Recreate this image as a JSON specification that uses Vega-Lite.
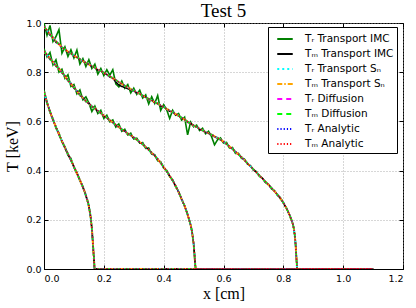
{
  "$schema": "https://vega.github.io/schema/vega-lite/v6.json",
  "width": 359,
  "height": 246,
  "autosize": {"type": "none"},
  "padding": {"left": 44, "top": 23, "right": 13, "bottom": 39},
  "title": {"text": "Test 5", "font": "Liberation Serif", "fontSize": 19, "fontWeight": "normal", "color": "#000", "offset": 3, "baseline": "alphabetic", "dy": 21, "anchor": "middle"},
  "config": {
    "view": {"stroke": "#000", "strokeWidth": 1},
    "axis": {
      "labelFont": "DejaVu Sans", "labelFontSize": 9.5, "labelColor": "#000",
      "titleFont": "Liberation Serif", "titleFontSize": 16, "titleFontWeight": "normal", "titleColor": "#000",
      "gridColor": "#999", "gridDash": [1, 2], "gridWidth": 0.8,
      "domainColor": "#000", "tickColor": "#000", "tickSize": -4, "labelPadding": 7
    },
    "legend": {
      "orient": "none", "legendX": 224, "legendY": 4,
      "strokeColor": "#000", "fillColor": "#fff", "padding": 3,
      "labelFont": "DejaVu Sans", "labelFontSize": 10.5, "labelColor": "#000",
      "symbolType": "stroke", "symbolSize": 240, "symbolStrokeWidth": 2, "symbolOffset": 5,
      "labelOffset": 11, "rowPadding": 0, "labelLimit": 200
    }
  },
  "datasets": {
    "ref": [
      {"c": 3, "x": 0.00, "t": 0.985}, {"c": 3, "x": 0.02, "t": 0.955}, {"c": 3, "x": 0.04, "t": 0.925}, {"c": 3, "x": 0.06, "t": 0.902},
      {"c": 3, "x": 0.08, "t": 0.884}, {"c": 3, "x": 0.10, "t": 0.868}, {"c": 3, "x": 0.12, "t": 0.853}, {"c": 3, "x": 0.14, "t": 0.838},
      {"c": 3, "x": 0.16, "t": 0.825}, {"c": 3, "x": 0.18, "t": 0.812}, {"c": 3, "x": 0.20, "t": 0.798}, {"c": 3, "x": 0.22, "t": 0.783},
      {"c": 3, "x": 0.24, "t": 0.768}, {"c": 3, "x": 0.26, "t": 0.752}, {"c": 3, "x": 0.28, "t": 0.738}, {"c": 3, "x": 0.30, "t": 0.725},
      {"c": 3, "x": 0.32, "t": 0.712}, {"c": 3, "x": 0.34, "t": 0.698}, {"c": 3, "x": 0.36, "t": 0.685}, {"c": 3, "x": 0.38, "t": 0.672},
      {"c": 3, "x": 0.40, "t": 0.658}, {"c": 3, "x": 0.42, "t": 0.644}, {"c": 3, "x": 0.44, "t": 0.630}, {"c": 3, "x": 0.46, "t": 0.615},
      {"c": 3, "x": 0.48, "t": 0.599}, {"c": 3, "x": 0.50, "t": 0.584}, {"c": 3, "x": 0.52, "t": 0.570}, {"c": 3, "x": 0.54, "t": 0.557},
      {"c": 3, "x": 0.56, "t": 0.546}, {"c": 3, "x": 0.58, "t": 0.533}, {"c": 3, "x": 0.60, "t": 0.518}, {"c": 3, "x": 0.62, "t": 0.498},
      {"c": 3, "x": 0.64, "t": 0.477}, {"c": 3, "x": 0.66, "t": 0.455}, {"c": 3, "x": 0.68, "t": 0.430}, {"c": 3, "x": 0.70, "t": 0.405},
      {"c": 3, "x": 0.72, "t": 0.380}, {"c": 3, "x": 0.74, "t": 0.355}, {"c": 3, "x": 0.76, "t": 0.330}, {"c": 3, "x": 0.78, "t": 0.303},
      {"c": 3, "x": 0.80, "t": 0.270}, {"c": 3, "x": 0.81, "t": 0.248}, {"c": 3, "x": 0.82, "t": 0.222}, {"c": 3, "x": 0.83, "t": 0.190},
      {"c": 3, "x": 0.835, "t": 0.165}, {"c": 3, "x": 0.838, "t": 0.14}, {"c": 3, "x": 0.841, "t": 0.10}, {"c": 3, "x": 0.843, "t": 0.06},
      {"c": 3, "x": 0.845, "t": 0.02}, {"c": 3, "x": 0.846, "t": 0.0}, {"c": 3, "x": 1.1, "t": 0.0},
      {"c": 2, "x": 0.00, "t": 0.885}, {"c": 2, "x": 0.02, "t": 0.855}, {"c": 2, "x": 0.04, "t": 0.827}, {"c": 2, "x": 0.06, "t": 0.800},
      {"c": 2, "x": 0.08, "t": 0.768}, {"c": 2, "x": 0.10, "t": 0.738}, {"c": 2, "x": 0.12, "t": 0.708}, {"c": 2, "x": 0.14, "t": 0.683},
      {"c": 2, "x": 0.16, "t": 0.662}, {"c": 2, "x": 0.18, "t": 0.643}, {"c": 2, "x": 0.20, "t": 0.624}, {"c": 2, "x": 0.22, "t": 0.605},
      {"c": 2, "x": 0.24, "t": 0.586}, {"c": 2, "x": 0.26, "t": 0.568}, {"c": 2, "x": 0.28, "t": 0.551}, {"c": 2, "x": 0.30, "t": 0.535},
      {"c": 2, "x": 0.32, "t": 0.517}, {"c": 2, "x": 0.34, "t": 0.496}, {"c": 2, "x": 0.36, "t": 0.473}, {"c": 2, "x": 0.38, "t": 0.447},
      {"c": 2, "x": 0.40, "t": 0.415}, {"c": 2, "x": 0.42, "t": 0.380}, {"c": 2, "x": 0.44, "t": 0.338}, {"c": 2, "x": 0.46, "t": 0.285},
      {"c": 2, "x": 0.47, "t": 0.256}, {"c": 2, "x": 0.48, "t": 0.222}, {"c": 2, "x": 0.49, "t": 0.180}, {"c": 2, "x": 0.495, "t": 0.15},
      {"c": 2, "x": 0.50, "t": 0.105}, {"c": 2, "x": 0.503, "t": 0.06}, {"c": 2, "x": 0.505, "t": 0.025}, {"c": 2, "x": 0.507, "t": 0.0},
      {"c": 2, "x": 1.1, "t": 0.0},
      {"c": 1, "x": 0.000, "t": 0.720}, {"c": 1, "x": 0.010, "t": 0.675}, {"c": 1, "x": 0.020, "t": 0.640}, {"c": 1, "x": 0.030, "t": 0.607},
      {"c": 1, "x": 0.045, "t": 0.562}, {"c": 1, "x": 0.060, "t": 0.520}, {"c": 1, "x": 0.075, "t": 0.480}, {"c": 1, "x": 0.090, "t": 0.443},
      {"c": 1, "x": 0.105, "t": 0.402}, {"c": 1, "x": 0.120, "t": 0.362}, {"c": 1, "x": 0.135, "t": 0.318}, {"c": 1, "x": 0.147, "t": 0.272},
      {"c": 1, "x": 0.155, "t": 0.220}, {"c": 1, "x": 0.160, "t": 0.165}, {"c": 1, "x": 0.164, "t": 0.095}, {"c": 1, "x": 0.167, "t": 0.040},
      {"c": 1, "x": 0.169, "t": 0.0}, {"c": 1, "x": 1.1, "t": 0.0}
    ],
    "imc": [
      {"c": 3, "x": 0.00, "r": 1.000, "m": 0.975}, {"c": 3, "x": 0.01, "r": 0.950, "m": 0.968}, {"c": 3, "x": 0.02, "r": 0.990, "m": 0.950},
      {"c": 3, "x": 0.03, "r": 0.925, "m": 0.942}, {"c": 3, "x": 0.04, "r": 0.945, "m": 0.921}, {"c": 3, "x": 0.05, "r": 0.973, "m": 0.915},
      {"c": 3, "x": 0.06, "r": 0.877, "m": 0.898}, {"c": 3, "x": 0.07, "r": 0.903, "m": 0.895}, {"c": 3, "x": 0.08, "r": 0.864, "m": 0.880},
      {"c": 3, "x": 0.09, "r": 0.891, "m": 0.878}, {"c": 3, "x": 0.10, "r": 0.858, "m": 0.864}, {"c": 3, "x": 0.11, "r": 0.890, "m": 0.862},
      {"c": 3, "x": 0.12, "r": 0.833, "m": 0.850}, {"c": 3, "x": 0.13, "r": 0.855, "m": 0.847}, {"c": 3, "x": 0.14, "r": 0.823, "m": 0.835},
      {"c": 3, "x": 0.15, "r": 0.851, "m": 0.832}, {"c": 3, "x": 0.16, "r": 0.815, "m": 0.822}, {"c": 3, "x": 0.17, "r": 0.833, "m": 0.819},
      {"c": 3, "x": 0.18, "r": 0.792, "m": 0.808}, {"c": 3, "x": 0.19, "r": 0.815, "m": 0.806}, {"c": 3, "x": 0.20, "r": 0.786, "m": 0.795},
      {"c": 3, "x": 0.21, "r": 0.810, "m": 0.791}, {"c": 3, "x": 0.22, "r": 0.788, "m": 0.780}, {"c": 3, "x": 0.23, "r": 0.810, "m": 0.776},
      {"c": 3, "x": 0.24, "r": 0.753, "m": 0.760}, {"c": 3, "x": 0.25, "r": 0.740, "m": 0.748}, {"c": 3, "x": 0.26, "r": 0.764, "m": 0.742},
      {"c": 3, "x": 0.27, "r": 0.735, "m": 0.738}, {"c": 3, "x": 0.28, "r": 0.750, "m": 0.733}, {"c": 3, "x": 0.29, "r": 0.716, "m": 0.728},
      {"c": 3, "x": 0.30, "r": 0.735, "m": 0.724}, {"c": 3, "x": 0.31, "r": 0.710, "m": 0.716}, {"c": 3, "x": 0.32, "r": 0.727, "m": 0.713},
      {"c": 3, "x": 0.33, "r": 0.695, "m": 0.703}, {"c": 3, "x": 0.34, "r": 0.708, "m": 0.699}, {"c": 3, "x": 0.35, "r": 0.671, "m": 0.688},
      {"c": 3, "x": 0.36, "r": 0.700, "m": 0.686}, {"c": 3, "x": 0.37, "r": 0.673, "m": 0.676}, {"c": 3, "x": 0.38, "r": 0.705, "m": 0.674},
      {"c": 3, "x": 0.39, "r": 0.645, "m": 0.662}, {"c": 3, "x": 0.40, "r": 0.668, "m": 0.659}, {"c": 3, "x": 0.41, "r": 0.648, "m": 0.649},
      {"c": 3, "x": 0.42, "r": 0.612, "m": 0.641}, {"c": 3, "x": 0.43, "r": 0.645, "m": 0.638}, {"c": 3, "x": 0.44, "r": 0.625, "m": 0.627},
      {"c": 3, "x": 0.45, "r": 0.632, "m": 0.623}, {"c": 3, "x": 0.46, "r": 0.605, "m": 0.612}, {"c": 3, "x": 0.47, "r": 0.617, "m": 0.608},
      {"c": 3, "x": 0.48, "r": 0.545, "m": 0.596}, {"c": 3, "x": 0.49, "r": 0.597, "m": 0.592}, {"c": 3, "x": 0.50, "r": 0.578, "m": 0.582},
      {"c": 3, "x": 0.51, "r": 0.585, "m": 0.578}, {"c": 3, "x": 0.52, "r": 0.563, "m": 0.567}, {"c": 3, "x": 0.53, "r": 0.572, "m": 0.564},
      {"c": 3, "x": 0.54, "r": 0.550, "m": 0.555}, {"c": 3, "x": 0.55, "r": 0.560, "m": 0.552}, {"c": 3, "x": 0.56, "r": 0.538, "m": 0.543},
      {"c": 3, "x": 0.57, "r": 0.505, "m": 0.538}, {"c": 3, "x": 0.58, "r": 0.525, "m": 0.531}, {"c": 3, "x": 0.59, "r": 0.533, "m": 0.527},
      {"c": 3, "x": 0.60, "r": 0.512, "m": 0.516}, {"c": 3, "x": 0.61, "r": 0.515, "m": 0.509}, {"c": 3, "x": 0.62, "r": 0.492, "m": 0.496},
      {"c": 3, "x": 0.63, "r": 0.494, "m": 0.489}, {"c": 3, "x": 0.64, "r": 0.470, "m": 0.475}, {"c": 3, "x": 0.65, "r": 0.470, "m": 0.467},
      {"c": 3, "x": 0.66, "r": 0.450, "m": 0.453}, {"c": 3, "x": 0.67, "r": 0.447, "m": 0.444}, {"c": 3, "x": 0.68, "r": 0.427, "m": 0.428},
      {"c": 3, "x": 0.69, "r": 0.420, "m": 0.419}, {"c": 3, "x": 0.70, "r": 0.402, "m": 0.403}, {"c": 3, "x": 0.71, "r": 0.396, "m": 0.394},
      {"c": 3, "x": 0.72, "r": 0.377, "m": 0.378}, {"c": 3, "x": 0.73, "r": 0.370, "m": 0.369}, {"c": 3, "x": 0.74, "r": 0.352, "m": 0.353},
      {"c": 3, "x": 0.75, "r": 0.345, "m": 0.344}, {"c": 3, "x": 0.76, "r": 0.327, "m": 0.328}, {"c": 3, "x": 0.77, "r": 0.319, "m": 0.318},
      {"c": 3, "x": 0.78, "r": 0.300, "m": 0.302}, {"c": 3, "x": 0.79, "r": 0.290, "m": 0.289}, {"c": 3, "x": 0.80, "r": 0.268, "m": 0.269},
      {"c": 3, "x": 0.81, "r": 0.248, "m": 0.248}, {"c": 3, "x": 0.82, "r": 0.222, "m": 0.222}, {"c": 3, "x": 0.83, "r": 0.190, "m": 0.190},
      {"c": 3, "x": 0.835, "r": 0.165, "m": 0.165}, {"c": 3, "x": 0.838, "r": 0.14, "m": 0.14}, {"c": 3, "x": 0.841, "r": 0.10, "m": 0.10},
      {"c": 3, "x": 0.843, "r": 0.06, "m": 0.06}, {"c": 3, "x": 0.845, "r": 0.02, "m": 0.02}, {"c": 3, "x": 0.846, "r": 0.0, "m": 0.0},
      {"c": 3, "x": 1.1, "r": 0.0, "m": 0.0},
      {"c": 2, "x": 0.00, "r": 0.895, "m": 0.880}, {"c": 2, "x": 0.01, "r": 0.862, "m": 0.872}, {"c": 2, "x": 0.02, "r": 0.880, "m": 0.852},
      {"c": 2, "x": 0.03, "r": 0.830, "m": 0.843}, {"c": 2, "x": 0.04, "r": 0.850, "m": 0.824}, {"c": 2, "x": 0.05, "r": 0.800, "m": 0.816},
      {"c": 2, "x": 0.06, "r": 0.812, "m": 0.797}, {"c": 2, "x": 0.07, "r": 0.775, "m": 0.786}, {"c": 2, "x": 0.08, "r": 0.790, "m": 0.765},
      {"c": 2, "x": 0.09, "r": 0.742, "m": 0.755}, {"c": 2, "x": 0.10, "r": 0.750, "m": 0.735}, {"c": 2, "x": 0.11, "r": 0.712, "m": 0.725},
      {"c": 2, "x": 0.12, "r": 0.728, "m": 0.705}, {"c": 2, "x": 0.13, "r": 0.688, "m": 0.697}, {"c": 2, "x": 0.14, "r": 0.700, "m": 0.680},
      {"c": 2, "x": 0.15, "r": 0.675, "m": 0.674}, {"c": 2, "x": 0.16, "r": 0.640, "m": 0.659}, {"c": 2, "x": 0.17, "r": 0.662, "m": 0.654},
      {"c": 2, "x": 0.18, "r": 0.632, "m": 0.640}, {"c": 2, "x": 0.19, "r": 0.645, "m": 0.635}, {"c": 2, "x": 0.20, "r": 0.612, "m": 0.621},
      {"c": 2, "x": 0.21, "r": 0.625, "m": 0.616}, {"c": 2, "x": 0.22, "r": 0.598, "m": 0.602}, {"c": 2, "x": 0.23, "r": 0.606, "m": 0.597},
      {"c": 2, "x": 0.24, "r": 0.577, "m": 0.583}, {"c": 2, "x": 0.25, "r": 0.590, "m": 0.579}, {"c": 2, "x": 0.26, "r": 0.560, "m": 0.565},
      {"c": 2, "x": 0.27, "r": 0.568, "m": 0.561}, {"c": 2, "x": 0.28, "r": 0.545, "m": 0.548}, {"c": 2, "x": 0.29, "r": 0.552, "m": 0.545},
      {"c": 2, "x": 0.30, "r": 0.528, "m": 0.532}, {"c": 2, "x": 0.31, "r": 0.532, "m": 0.528}, {"c": 2, "x": 0.32, "r": 0.512, "m": 0.514},
      {"c": 2, "x": 0.33, "r": 0.514, "m": 0.509}, {"c": 2, "x": 0.34, "r": 0.490, "m": 0.493}, {"c": 2, "x": 0.35, "r": 0.492, "m": 0.487},
      {"c": 2, "x": 0.36, "r": 0.467, "m": 0.470}, {"c": 2, "x": 0.37, "r": 0.465, "m": 0.462}, {"c": 2, "x": 0.38, "r": 0.440, "m": 0.444},
      {"c": 2, "x": 0.39, "r": 0.436, "m": 0.433}, {"c": 2, "x": 0.40, "r": 0.410, "m": 0.413}, {"c": 2, "x": 0.41, "r": 0.401, "m": 0.399},
      {"c": 2, "x": 0.42, "r": 0.376, "m": 0.378}, {"c": 2, "x": 0.43, "r": 0.363, "m": 0.361}, {"c": 2, "x": 0.44, "r": 0.335, "m": 0.336},
      {"c": 2, "x": 0.45, "r": 0.315, "m": 0.314}, {"c": 2, "x": 0.46, "r": 0.283, "m": 0.284}, {"c": 2, "x": 0.47, "r": 0.257, "m": 0.256},
      {"c": 2, "x": 0.48, "r": 0.221, "m": 0.222}, {"c": 2, "x": 0.49, "r": 0.180, "m": 0.180}, {"c": 2, "x": 0.495, "r": 0.15, "m": 0.15},
      {"c": 2, "x": 0.50, "r": 0.105, "m": 0.105}, {"c": 2, "x": 0.503, "r": 0.06, "m": 0.06}, {"c": 2, "x": 0.505, "r": 0.025, "m": 0.025},
      {"c": 2, "x": 0.507, "r": 0.0, "m": 0.0}, {"c": 2, "x": 1.1, "r": 0.0, "m": 0.0},
      {"c": 1, "x": 0.00, "r": 0.728, "m": 0.715}, {"c": 1, "x": 0.01, "r": 0.680, "m": 0.677}, {"c": 1, "x": 0.02, "r": 0.636, "m": 0.641},
      {"c": 1, "x": 0.03, "r": 0.612, "m": 0.605}, {"c": 1, "x": 0.04, "r": 0.572, "m": 0.578}, {"c": 1, "x": 0.05, "r": 0.553, "m": 0.546},
      {"c": 1, "x": 0.06, "r": 0.516, "m": 0.521}, {"c": 1, "x": 0.07, "r": 0.498, "m": 0.491}, {"c": 1, "x": 0.08, "r": 0.462, "m": 0.468},
      {"c": 1, "x": 0.09, "r": 0.450, "m": 0.441}, {"c": 1, "x": 0.10, "r": 0.412, "m": 0.417}, {"c": 1, "x": 0.11, "r": 0.393, "m": 0.387},
      {"c": 1, "x": 0.12, "r": 0.358, "m": 0.363}, {"c": 1, "x": 0.13, "r": 0.336, "m": 0.331}, {"c": 1, "x": 0.14, "r": 0.297, "m": 0.301},
      {"c": 1, "x": 0.15, "r": 0.257, "m": 0.255}, {"c": 1, "x": 0.155, "r": 0.220, "m": 0.220}, {"c": 1, "x": 0.16, "r": 0.165, "m": 0.165},
      {"c": 1, "x": 0.164, "r": 0.095, "m": 0.095}, {"c": 1, "x": 0.167, "r": 0.04, "m": 0.04}, {"c": 1, "x": 0.169, "r": 0.0, "m": 0.0},
      {"c": 1, "x": 1.1, "r": 0.0, "m": 0.0}
    ]
  },
  "resolve": {"axis": {"x": "independent", "y": "independent"}},
  "layer": [
    {
      "encoding": {
        "x": {"field": "x", "type": "quantitative", "scale": {"domain": [0, 1.2], "nice": false, "zero": false},
              "axis": {"values": [0, 0.2, 0.4, 0.6, 0.8, 1.0, 1.2], "format": ".1f", "title": "x [cm]", "titlePadding": 3, "labelPadding": 8}},
        "detail": {"field": "c", "type": "nominal"},
        "color": {"scale": {"domain": ["Tᵣ Transport IMC", "Tₘ Transport IMC", "Tᵣ Transport Sₙ", "Tₘ Transport Sₙ", "Tᵣ Diffusion", "Tₘ Diffusion", "Tᵣ Analytic", "Tₘ Analytic"],
                            "range": ["#008000", "#000000", "#00ffff", "#ffa500", "#ff00ff", "#00ff00", "#0000ff", "#ff0000"]},
                  "legend": {"title": null}},
        "strokeDash": {"scale": {"domain": ["Tᵣ Transport IMC", "Tₘ Transport IMC", "Tᵣ Transport Sₙ", "Tₘ Transport Sₙ", "Tᵣ Diffusion", "Tₘ Diffusion", "Tᵣ Analytic", "Tₘ Analytic"],
                                 "range": [[1, 0], [1, 0], [2, 3], [5, 2, 1.5, 2], [5, 4], [5, 4], [1.2, 2], [1.2, 2]]},
                       "legend": {"title": null}}
      },
      "layer": [
        {"data": {"name": "imc"}, "mark": {"type": "line", "strokeWidth": 1.6, "clip": true},
         "encoding": {"y": {"field": "r", "type": "quantitative", "scale": {"domain": [0, 1], "nice": false},
                            "axis": {"values": [0, 0.2, 0.4, 0.6, 0.8, 1.0], "format": ".1f", "title": "T [keV]", "titlePadding": 5, "labelPadding": 7}},
                      "color": {"datum": "Tᵣ Transport IMC"}, "strokeDash": {"datum": "Tᵣ Transport IMC"}}},
        {"data": {"name": "imc"}, "mark": {"type": "line", "strokeWidth": 1.5, "clip": true},
         "encoding": {"y": {"field": "m", "type": "quantitative"},
                      "color": {"datum": "Tₘ Transport IMC"}, "strokeDash": {"datum": "Tₘ Transport IMC"}}},
        {"data": {"name": "ref"}, "mark": {"type": "line", "strokeWidth": 2, "clip": true},
         "encoding": {"y": {"field": "t", "type": "quantitative"},
                      "color": {"datum": "Tᵣ Transport Sₙ"}, "strokeDash": {"datum": "Tᵣ Transport Sₙ"}}},
        {"data": {"name": "ref"}, "mark": {"type": "line", "strokeWidth": 2, "clip": true},
         "encoding": {"y": {"field": "t", "type": "quantitative"},
                      "color": {"datum": "Tₘ Transport Sₙ"}, "strokeDash": {"datum": "Tₘ Transport Sₙ"}}},
        {"data": {"name": "ref"}, "mark": {"type": "line", "strokeWidth": 1.6, "clip": true},
         "encoding": {"y": {"field": "t", "type": "quantitative"},
                      "color": {"datum": "Tᵣ Diffusion"}, "strokeDash": {"datum": "Tᵣ Diffusion"}}},
        {"data": {"name": "ref"}, "mark": {"type": "line", "strokeWidth": 1.6, "clip": true},
         "encoding": {"y": {"field": "t", "type": "quantitative"},
                      "color": {"datum": "Tₘ Diffusion"}, "strokeDash": {"datum": "Tₘ Diffusion"}}},
        {"data": {"name": "ref"}, "mark": {"type": "line", "strokeWidth": 1.3, "clip": true},
         "encoding": {"y": {"field": "t", "type": "quantitative"},
                      "color": {"datum": "Tᵣ Analytic"}, "strokeDash": {"datum": "Tᵣ Analytic"}}},
        {"data": {"name": "ref"}, "mark": {"type": "line", "strokeWidth": 1.3, "clip": true},
         "encoding": {"y": {"field": "t", "type": "quantitative"},
                      "color": {"datum": "Tₘ Analytic"}, "strokeDash": {"datum": "Tₘ Analytic"}}}
      ]
    },
    {
      "data": {"name": "ref"},
      "mark": {"type": "line", "opacity": 0},
      "encoding": {
        "x": {"field": "x", "type": "quantitative",
              "axis": {"orient": "top", "values": [0, 0.2, 0.4, 0.6, 0.8, 1.0, 1.2], "labels": false, "grid": false, "domain": false, "title": null}},
        "y": {"field": "t", "type": "quantitative",
              "axis": {"orient": "right", "values": [0, 0.2, 0.4, 0.6, 0.8, 1.0], "labels": false, "grid": false, "domain": false, "title": null}}
      }
    }
  ]
}
